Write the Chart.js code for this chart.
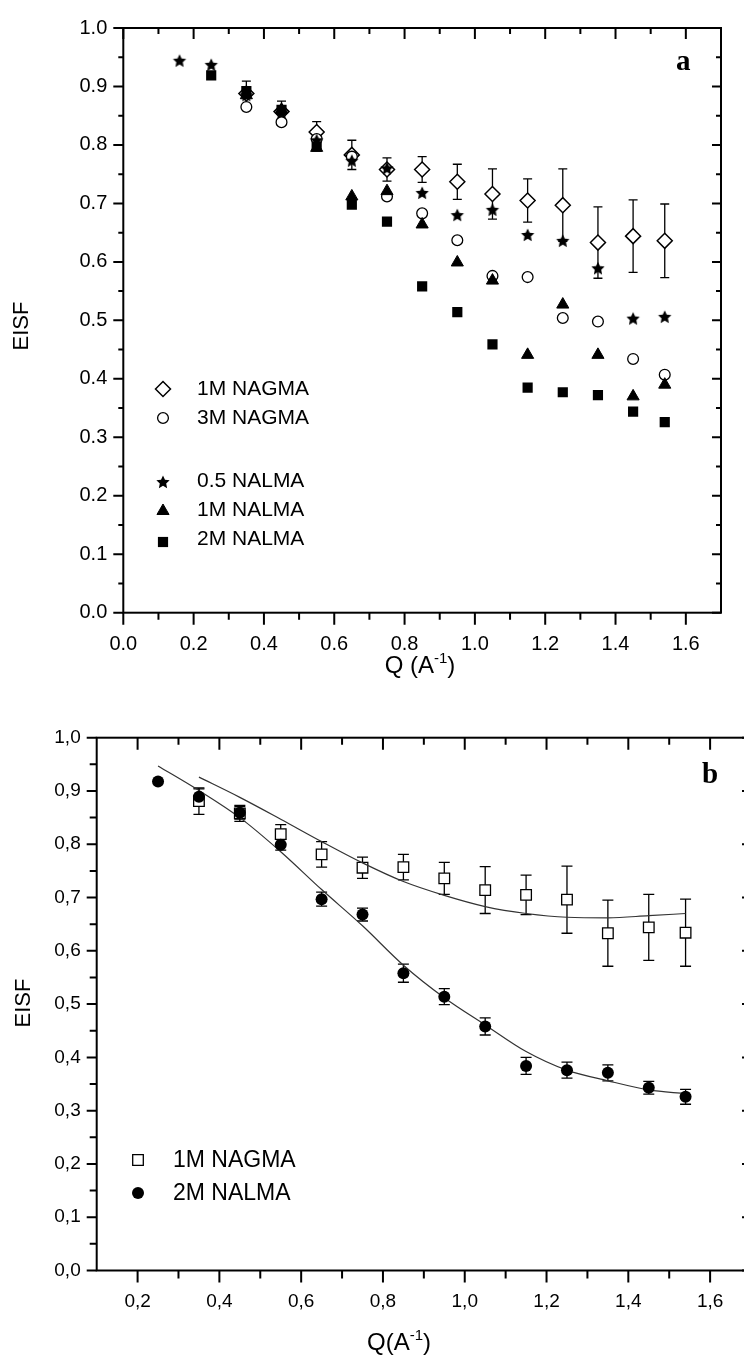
<!DOCTYPE html>
<html>
<head>
<meta charset="utf-8">
<script src="https://cdn.jsdelivr.net/npm/chart.js@4.4.0/dist/chart.umd.min.js"></script>
<style>
  html, body { margin: 0; padding: 0; background: #fff; overflow: hidden; width: 744px; height: 1357px; }
  #boxA { position: absolute; left: 0; top: 0; }
  #boxB { position: absolute; left: 0; top: 700px; }
</style>
</head>
<body>
<div id="boxA"><canvas id="chartA" width="744" height="700"></canvas></div>
<div id="boxB"><canvas id="chartB" width="760" height="657"></canvas></div>
<script>
// ---- panel a data ----
const qA = [0.16, 0.25, 0.35, 0.45, 0.55, 0.65, 0.75, 0.85, 0.95, 1.05, 1.15, 1.25, 1.35, 1.45, 1.54];
const nagma1M    = [null, null, 0.888, 0.857, 0.822, 0.783, 0.758, 0.758, 0.737, 0.716, 0.705, 0.697, 0.633, 0.644, 0.636];
const nagma1MErr = [null, null, 0.021, 0.018, 0.018, 0.025, 0.020, 0.022, 0.030, 0.043, 0.037, 0.062, 0.061, 0.062, 0.063];
const nagma3M    = [null, null, 0.865, 0.839, 0.810, 0.780, 0.712, 0.683, 0.637, 0.576, 0.574, 0.504, 0.498, 0.434, 0.407];
const nalma05    = [0.944, 0.937, 0.885, 0.855, 0.808, 0.773, 0.760, 0.718, 0.680, 0.689, 0.646, 0.636, 0.589, 0.503, 0.506];
const nalma1M    = [null, null, 0.885, 0.860, 0.795, 0.712, 0.721, 0.664, 0.599, 0.568, 0.441, 0.527, 0.441, 0.370, 0.390];
const nalma2M    = [null, 0.919, 0.892, 0.860, 0.797, 0.698, 0.669, 0.558, 0.514, 0.459, 0.385, 0.377, 0.372, 0.344, 0.326];

// ---- panel b data ----
const qB = [0.25, 0.35, 0.45, 0.55, 0.65, 0.75, 0.85, 0.95, 1.05, 1.15, 1.25, 1.35, 1.45, 1.54];
const bNagma    = [null, 0.881, 0.858, 0.819, 0.781, 0.756, 0.757, 0.736, 0.714, 0.705, 0.696, 0.633, 0.644, 0.634];
const bNagmaErr = [null, 0.025, 0.015, 0.018, 0.024, 0.020, 0.024, 0.030, 0.044, 0.037, 0.063, 0.062, 0.062, 0.063];
const bNalma    = [0.918, 0.889, 0.859, 0.799, 0.697, 0.668, 0.558, 0.514, 0.458, 0.384, 0.376, 0.371, 0.343, 0.326];
const bNalmaErr = [null, 0.015, 0.012, 0.010, 0.013, 0.012, 0.017, 0.015, 0.016, 0.016, 0.015, 0.015, 0.012, 0.014];

// fitted curves in panel b
const fitNagmaQ = [0.35, 0.45, 0.55, 0.65, 0.75, 0.85, 0.95, 1.05, 1.15, 1.25, 1.35, 1.45, 1.54];
const fitNagma  = [0.926, 0.888, 0.847, 0.805, 0.765, 0.730, 0.704, 0.683, 0.670, 0.663, 0.662, 0.666, 0.670];
const fitNalmaQ = [0.25, 0.35, 0.45, 0.55, 0.65, 0.75, 0.85, 0.95, 1.05, 1.15, 1.25, 1.35, 1.45, 1.54];
const fitNalma  = [0.947, 0.901, 0.850, 0.786, 0.715, 0.647, 0.573, 0.512, 0.461, 0.411, 0.376, 0.356, 0.339, 0.332];

// ticks
const xTicksA = [0, 0.2, 0.4, 0.6, 0.8, 1.0, 1.2, 1.4, 1.6];
const xTicksB = [0.2, 0.4, 0.6, 0.8, 1.0, 1.2, 1.4, 1.6];
const yTicks  = [0, 0.1, 0.2, 0.3, 0.4, 0.5, 0.6, 0.7, 0.8, 0.9, 1.0];

const FONT = '"Liberation Sans", Arial, Helvetica, sans-serif';
const SERIF = '"Liberation Serif", "Times New Roman", serif';

function pts(q, vals, errs) {
  const out = [];
  q.forEach((x, i) => {
    if (vals[i] != null) out.push({ x: x, y: vals[i], e: errs ? errs[i] : null });
  });
  return out;
}

// filled five point star as a point style
function starImage(r) {
  const c = document.createElement('canvas');
  const s = Math.ceil(r * 2) + 2;
  c.width = s; c.height = s;
  const g = c.getContext('2d');
  g.beginPath();
  for (let i = 0; i < 10; i++) {
    const rr = i % 2 ? r * 0.48 : r;
    const a = -Math.PI / 2 + i * Math.PI / 5;
    g.lineTo(s / 2 + rr * Math.cos(a), s / 2 + rr * Math.sin(a) + 0.5);
  }
  g.closePath();
  g.fillStyle = '#000';
  g.fill();
  return c;
}

function minorsOf(majors, step, min, max) {
  const out = [];
  const cand = [majors[0] - step / 2].concat(majors.map(v => v + step / 2));
  cand.forEach(v => { if (v > min + 1e-6 && v < max - 1e-6) out.push(v); });
  return out;
}

// error bars under the markers
const errorBars = {
  id: 'errorBars',
  beforeDatasetsDraw(chart, args, o) {
    const { ctx, scales: { x, y } } = chart;
    ctx.save();
    ctx.strokeStyle = '#000';
    ctx.lineWidth = o.width || 1.3;
    chart.data.datasets.forEach(ds => {
      if (!ds.hasErrors) return;
      ds.data.forEach(d => {
        if (d.e == null) return;
        const px = x.getPixelForValue(d.x);
        const top = y.getPixelForValue(d.y + d.e);
        const bot = y.getPixelForValue(d.y - d.e);
        const c = o.cap / 2;
        ctx.beginPath();
        ctx.moveTo(px, top); ctx.lineTo(px, bot);
        ctx.moveTo(px - c, top); ctx.lineTo(px + c, top);
        ctx.moveTo(px - c, bot); ctx.lineTo(px + c, bot);
        ctx.stroke();
      });
    });
    ctx.restore();
  }
};

// box frame with ticks on all four sides
const frame = {
  id: 'frame',
  afterDraw(chart, args, o) {
    const { ctx, chartArea: a, scales: { x, y } } = chart;
    ctx.save();
    ctx.strokeStyle = '#000';
    ctx.lineWidth = 2;
    ctx.strokeRect(a.left, a.top, a.right - a.left, a.bottom - a.top);
    const xMin = minorsOf(o.xMajor, o.xStep, x.min, x.max);
    const yMin = minorsOf(o.yMajor, o.yStep, y.min, y.max);
    ctx.beginPath();
    const L = o.len;
    [[o.yMajor, 0], [yMin, 1]].forEach(([vals, k]) => {
      vals.forEach(v => {
        const py = y.getPixelForValue(v);
        ctx.moveTo(a.left, py); ctx.lineTo(a.left - L.left[k], py);
        ctx.moveTo(a.right, py); ctx.lineTo(a.right - L.right[k], py);
      });
    });
    [[o.xMajor, 0], [xMin, 1]].forEach(([vals, k]) => {
      vals.forEach(v => {
        const px = x.getPixelForValue(v);
        ctx.moveTo(px, a.bottom); ctx.lineTo(px, a.bottom + L.bottom[k]);
        ctx.moveTo(px, a.top); ctx.lineTo(px, a.top + L.top[k]);
      });
    });
    ctx.stroke();
    ctx.restore();
  }
};

// axis titles, panel letter and the in-plot legend
const texts = {
  id: 'texts',
  afterDraw(chart, args, o) {
    const ctx = chart.ctx;
    ctx.save();
    ctx.fillStyle = '#000';
    ctx.strokeStyle = '#000';

    ctx.save();
    ctx.translate(o.yTitle.x, o.yTitle.y);
    ctx.rotate(-Math.PI / 2);
    ctx.font = '22px ' + FONT;
    ctx.textAlign = 'center';
    ctx.textBaseline = 'middle';
    ctx.fillText(o.yTitle.text, 0, 0);
    ctx.restore();

    ctx.textAlign = 'left';
    ctx.textBaseline = 'alphabetic';
    ctx.font = '24px ' + FONT;
    const w1 = ctx.measureText(o.xTitle.pre).width;
    const w3 = ctx.measureText(')').width;
    ctx.font = '15px ' + FONT;
    const w2 = ctx.measureText(o.xTitle.sup).width;
    const sx = o.xTitle.cx - (w1 + w2 + w3) / 2;
    ctx.font = '24px ' + FONT;
    ctx.fillText(o.xTitle.pre, sx, o.xTitle.base);
    ctx.fillText(')', sx + w1 + w2, o.xTitle.base);
    ctx.font = '15px ' + FONT;
    ctx.fillText(o.xTitle.sup, sx + w1, o.xTitle.base - 10);

    ctx.font = 'bold 29px ' + SERIF;
    ctx.fillText(o.panel.text, o.panel.x, o.panel.y);

    ctx.font = o.legend.size + 'px ' + FONT;
    ctx.textBaseline = 'middle';
    o.legend.rows.forEach(r => {
      const ds = chart.data.datasets[r.ds];
      ctx.fillStyle = ds.backgroundColor;
      ctx.strokeStyle = ds.borderColor;
      ctx.lineWidth = ds.borderWidth;
      Chart.helpers.drawPoint(ctx, {
        pointStyle: ds.pointStyle, radius: ds.pointRadius, rotation: 0, borderWidth: ds.borderWidth
      }, o.legend.sx, r.sy);
      ctx.fillStyle = '#000';
      ctx.fillText(ds.label, o.legend.tx, r.y);
    });
    ctx.restore();
  }
};

function axes(xmin, xmax, xticks, xHeight, yWidth, fmt, fontSize) {
  const tickFont = { family: FONT, size: fontSize };
  return {
    x: {
      type: 'linear', min: xmin, max: xmax,
      afterBuildTicks: s => { s.ticks = xticks.map(v => ({ value: v })); },
      afterFit: s => { s.height = xHeight; },
      grid: { display: false, drawTicks: false },
      border: { display: false },
      ticks: { padding: 20, color: '#000', font: tickFont, maxRotation: 0, autoSkip: false, callback: fmt }
    },
    y: {
      type: 'linear', min: 0, max: 1.0,
      afterBuildTicks: s => { s.ticks = yTicks.map(v => ({ value: v })); },
      afterFit: s => { s.width = yWidth; },
      grid: { display: false, drawTicks: false },
      border: { display: false },
      ticks: { padding: 16, color: '#000', font: tickFont, autoSkip: false, callback: fmt }
    }
  };
}

const dotA = { showLine: false, borderColor: '#000', pointHoverRadius: 0 };

new Chart(document.getElementById('chartA'), {
  type: 'scatter',
  data: {
    datasets: [
      Object.assign({ label: '1M NAGMA', data: pts(qA, nagma1M, nagma1MErr), hasErrors: true,
        pointStyle: 'rectRot', pointRadius: 7.5, borderWidth: 1.5, backgroundColor: '#fff', order: 5 }, dotA),
      Object.assign({ label: '3M NAGMA', data: pts(qA, nagma3M),
        pointStyle: 'circle', pointRadius: 5.4, borderWidth: 1.3, backgroundColor: '#fff', order: 4 }, dotA),
      Object.assign({ label: '0.5 NALMA', data: pts(qA, nalma05),
        pointStyle: starImage(7), pointRadius: 7, borderWidth: 0, backgroundColor: '#000', order: 3 }, dotA),
      Object.assign({ label: '1M NALMA', data: pts(qA, nalma1M),
        pointStyle: 'triangle', pointRadius: 7, borderWidth: 1, backgroundColor: '#000', order: 2 }, dotA),
      Object.assign({ label: '2M NALMA', data: pts(qA, nalma2M),
        pointStyle: 'rect', pointRadius: 7.2, borderWidth: 0, backgroundColor: '#000', order: 1 }, dotA)
    ]
  },
  options: {
    responsive: false,
    animation: false,
    events: [],
    layout: { padding: { top: 24, right: 23, left: 0, bottom: 0 } },
    scales: axes(0, 1.7, xTicksA, 87.3, 123.3, v => v.toFixed(1), 20),
    plugins: {
      legend: { display: false },
      tooltip: { enabled: false },
      errorBars: { cap: 9, width: 1.3 },
      frame: {
        xMajor: xTicksA, xStep: 0.2, yMajor: yTicks, yStep: 0.1,
        len: { left: [10, 5], right: [9, 5], bottom: [12, 7], top: [11, 6] }
      },
      texts: {
        yTitle: { text: 'EISF', x: 22, y: 326 },
        xTitle: { pre: 'Q (A', sup: '-1', cx: 420, base: 673 },
        panel: { text: 'a', x: 676, y: 70 },
        legend: {
          sx: 163, tx: 197, size: 21,
          rows: [
            { ds: 0, y: 389, sy: 389 },
            { ds: 1, y: 418, sy: 418 },
            { ds: 2, y: 481, sy: 482 },
            { ds: 3, y: 510, sy: 511 },
            { ds: 4, y: 539, sy: 542 }
          ]
        }
      }
    }
  },
  plugins: [errorBars, frame, texts]
});

const commaFmt = v => v.toFixed(1).replace('.', ',');

new Chart(document.getElementById('chartB'), {
  type: 'scatter',
  data: {
    datasets: [
      { label: '1M NAGMA', data: pts(qB, bNagma, bNagmaErr), hasErrors: true, showLine: false,
        pointStyle: 'rect', pointRadius: 7.5, borderWidth: 1.3, borderColor: '#000', backgroundColor: '#fff', order: 4 },
      { label: '2M NALMA', data: pts(qB, bNalma, bNalmaErr), hasErrors: true, showLine: false,
        pointStyle: 'circle', pointRadius: 6, borderWidth: 0, borderColor: '#000', backgroundColor: '#000', order: 1 },
      { label: 'fit NAGMA', data: pts(fitNagmaQ, fitNagma), showLine: true, pointRadius: 0,
        borderColor: '#333', borderWidth: 1.2, cubicInterpolationMode: 'monotone', order: 3 },
      { label: 'fit NALMA', data: pts(fitNalmaQ, fitNalma), showLine: true, pointRadius: 0,
        borderColor: '#333', borderWidth: 1.2, cubicInterpolationMode: 'monotone', order: 2 }
    ]
  },
  options: {
    responsive: false,
    animation: false,
    events: [],
    layout: { padding: { top: 37.7, right: 9, left: 0, bottom: 0 } },
    scales: axes(0.1, 1.7, xTicksB, 86.5, 96.7, commaFmt, 19),
    plugins: {
      legend: { display: false },
      tooltip: { enabled: false },
      errorBars: { cap: 11, width: 1.3 },
      frame: {
        xMajor: xTicksB, xStep: 0.2, yMajor: yTicks, yStep: 0.1,
        len: { left: [10, 7], right: [9, 5], bottom: [12, 8], top: [12, 7] }
      },
      texts: {
        yTitle: { text: 'EISF', x: 24, y: 303 },
        xTitle: { pre: 'Q(A', sup: '-1', cx: 399, base: 650 },
        panel: { text: 'b', x: 702, y: 83 },
        legend: {
          sx: 138, tx: 173, size: 23,
          rows: [
            { ds: 0, y: 461, sy: 460 },
            { ds: 1, y: 494, sy: 493 }
          ]
        }
      }
    }
  },
  plugins: [errorBars, frame, texts]
});
</script>
</body>
</html>
